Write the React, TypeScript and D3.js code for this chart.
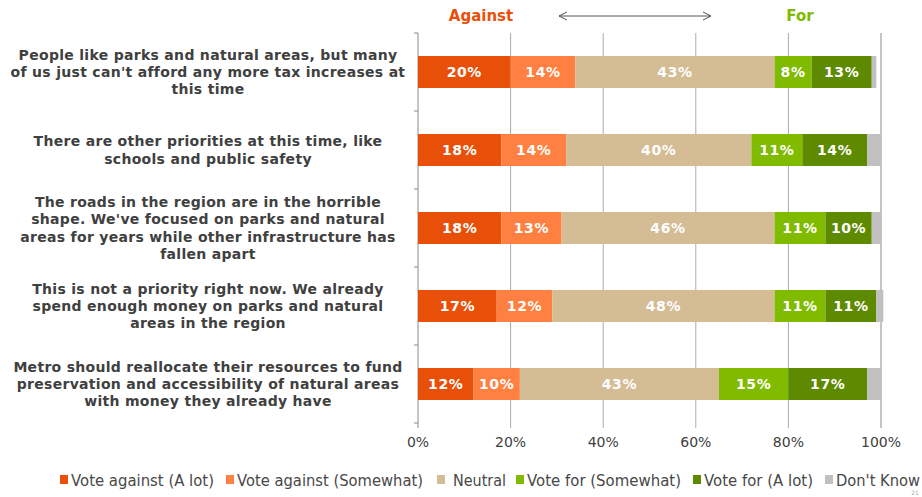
import React from "react";
import * as d3 from "d3";

const categories: string[][] = [
  ["People like parks and natural areas, but many", "of us just can't afford any more tax increases at", "this time"],
  ["There are other priorities at this time, like", "schools and public safety"],
  ["The roads in the region are in the horrible", "shape. We've focused on parks and natural", "areas for years while other infrastructure has", "fallen apart"],
  ["This is not a priority right now. We already", "spend enough money on parks and natural", "areas in the region"],
  ["Metro should reallocate their resources to fund", "preservation and accessibility of natural areas", "with money they already have"],
];

const seriesNames = [
  "Vote against (A lot)",
  "Vote against (Somewhat)",
  "Neutral",
  "Vote for (Somewhat)",
  "Vote for (A lot)",
  "Don't Know",
];

const againstALot = [20, 18, 18, 17, 12];
const againstSomewhat = [14, 14, 13, 12, 10];
const neutral = [43, 40, 46, 48, 43];
const forSomewhat = [8, 11, 11, 11, 15];
const forALot = [13, 14, 10, 11, 17];
const dontKnow = [1, 3, 2, 1.5, 3];

const xTicks = [0, 20, 40, 60, 80, 100];

const colors = ["#E8500A", "#FF8040", "#D4BC94", "#80BB00", "#5E8A00", "#C0C0C0"];
const font = "Verdana, 'DejaVu Sans', sans-serif";

export default function App() {
  const series = [againstALot, againstSomewhat, neutral, forSomewhat, forALot, dontKnow];
  const n = categories.length;
  const x = d3.scaleLinear().domain([0, 100]).range([418, 881]);
  const yBand = d3.scaleBand<number>().domain(d3.range(n)).range([33, 423]);
  const barH = 32;
  const stacked = d3
    .stack<number, number>()
    .keys(d3.range(series.length))
    .value((i, k) => series[k][i])(d3.range(n));
  const lh = 17.3;

  // legend layout: widths of legend texts as rendered in a condensed face
  const legendTextW = [143, 186, 53, 154, 109, 84];
  const legendGap = [0, 12, 14, 10, 12, 12];
  const legendTextOff = [11, 11, 16, 11, 11, 11];
  let cursor = 60;
  const legendItems = seriesNames.map((name, k) => {
    cursor += legendGap[k];
    const bx = cursor;
    cursor = bx + legendTextOff[k] + legendTextW[k];
    return { name, bx, tx: bx + legendTextOff[k], w: legendTextW[k], k };
  });

  return (
    <svg width={922} height={497} style={{ position: "absolute", left: 0, top: 0, background: "#fff" }}>
      {/* header */}
      <text x={481} y={21} textAnchor="middle" fontFamily={font} fontWeight="bold" fontSize={15} fill="#E8500A">Against</text>
      <text x={800} y={21} textAnchor="middle" fontFamily={font} fontWeight="bold" fontSize={15} fill="#80BB00">For</text>
      <g stroke="#555" strokeWidth={1} fill="none">
        <line x1={559} x2={711} y1={16} y2={16} />
        <polyline points="567,12 559,16 567,20" />
        <polyline points="703,12 711,16 703,20" />
      </g>

      {/* grid */}
      {xTicks.map((t) => (
        <line key={t} x1={x(t)} x2={x(t)} y1={33} y2={428} stroke={t === 0 || t === 100 ? "#8a8a8a" : "#ababab"} strokeWidth={1} />
      ))}
      {d3.range(n + 1).map((i) => {
        const yy = yBand.range()[0] + i * yBand.step();
        return <line key={i} x1={414} x2={418} y1={yy} y2={yy} stroke="#8a8a8a" />;
      })}

      {/* bars */}
      {stacked.map((layer, k) => (
        <g key={k}>
          {layer.map((d, i) => (
            <rect
              key={i}
              x={x(d[0])}
              y={yBand(i)! + yBand.bandwidth() / 2 - barH / 2}
              width={Math.max(0, x(d[1]) - x(d[0]))}
              height={barH}
              fill={colors[k]}
            />
          ))}
        </g>
      ))}
      {stacked.slice(0, 5).map((layer, k) => (
        <g key={"t" + k}>
          {layer.map((d, i) => (
            <text
              key={i}
              x={(x(d[0]) + x(d[1])) / 2}
              y={yBand(i)! + yBand.bandwidth() / 2 + 5}
              textAnchor="middle"
              fontFamily={font}
              fontWeight="bold"
              fontSize={14}
              letterSpacing={0.6}
              fill="#fff"
            >
              {series[k][i]}%
            </text>
          ))}
        </g>
      ))}

      {/* category labels */}
      {categories.map((lines, i) => {
        const cy = yBand(i)! + yBand.bandwidth() / 2;
        const start = cy - ((lines.length - 1) * lh) / 2 + 5;
        return (
          <text key={i} textAnchor="middle" fontFamily={font} fontWeight="bold" fontSize={14} letterSpacing={0.3} fill="#404040">
            {lines.map((l, j) => (
              <tspan key={j} x={208} y={start + j * lh}>{l}</tspan>
            ))}
          </text>
        );
      })}

      {/* x axis labels */}
      {xTicks.map((t) => (
        <text key={t} x={x(t)} y={447} textAnchor="middle" fontFamily={font} fontSize={14} fill="#404040">{t}%</text>
      ))}

      {/* legend */}
      <g fontFamily={font} fontSize={15} fill="#484848">
        {legendItems.map((it) => (
          <g key={it.k}>
            <rect x={it.bx} y={475} width={8} height={9} fill={colors[it.k]} />
            <text x={it.tx} y={485.5} textLength={it.w} lengthAdjust="spacingAndGlyphs">{it.name}</text>
          </g>
        ))}
      </g>
      <text x={915} y={495} fontFamily={font} fontSize={6} fill="#aaa" textAnchor="middle">21</text>
    </svg>
  );
}
